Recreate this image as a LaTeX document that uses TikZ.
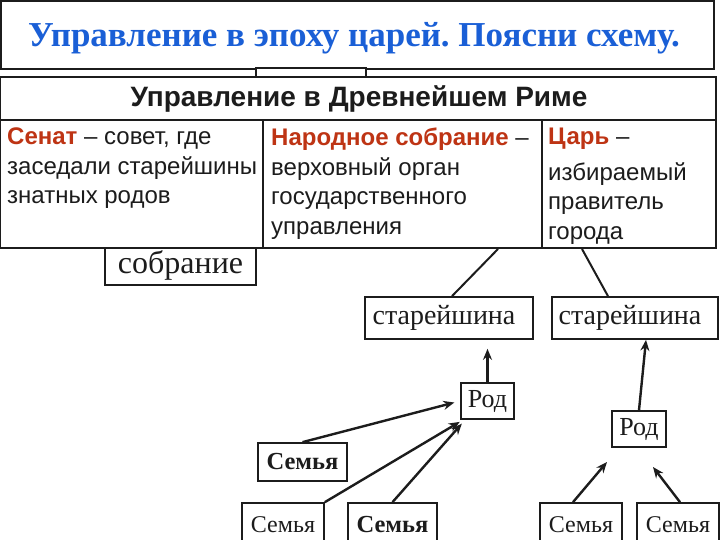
\documentclass[tikz,border=0pt]{standalone}
\usepackage{fontspec}
\setmainfont{Liberation Serif}
\setsansfont{Liberation Sans}
\usetikzlibrary{positioning, arrows.meta}
\definecolor{titleblue}{HTML}{1A5FD6}
\definecolor{termred}{HTML}{BE3414}
\definecolor{ink}{HTML}{1C1C1C}
\newcommand{\term}[1]{\textbf{\textcolor{termred}{#1}}}
\frenchspacing

\begin{document}
\begin{tikzpicture}[
  x=1pt, y=-1pt,
  every node/.style={text=ink},
  box/.style={draw=ink, line width=1.7pt, fill=white, inner sep=0pt},
  cell/.style={anchor=north west, align=left, inner sep=0pt,
    font=\sffamily\fontsize{24}{29.5}\selectfont},
  arr/.style={-{Stealth[length=11pt, width=9pt]}, line width=2.4pt, draw=ink},
  link/.style={line width=2pt, draw=ink}
]
  \useasboundingbox (0,0) rectangle (720,540);

  % title band
  \draw[line width=2pt, draw=ink] (1,1) rectangle (714,69);
  \node[font=\bfseries\fontsize{35}{38}\selectfont, text=titleblue] (title) at (354,38)
    {Управление в эпоху царей. Поясни схему.};

  % boxes partly hidden behind the table
  \draw[box] (256,68) rectangle (366,90);
  \node[box, minimum width=151, minimum height=40, font=\fontsize{32}{36}\selectfont]
    (sobr) at (180.5,265) {собрание};

  % table
  \draw[line width=2pt, draw=ink, fill=white] (0,77) rectangle (716,248);
  \draw[line width=1.3pt, draw=ink] (0,120) -- (716,120);
  \draw[line width=1.3pt, draw=ink] (263,120) -- (263,248);
  \draw[line width=1.3pt, draw=ink] (542,120) -- (542,248);
  \node[font=\sffamily\bfseries\fontsize{28}{32}\selectfont] (head) at (359,99)
    {Управление в Древнейшем Риме};
  \node[cell] (senat) at (7,128)
    {\term{Сенат} – совет, где\\заседали старейшины\\знатных родов};
  \node[cell] (narod) at (271,128)
    {\term{Народное собрание} –\\верховный орган\\государственного\\управления};
  \node[cell] (tsar) at (548,128)
    {\term{Царь} –\\[6pt]избираемый\\правитель\\города};

  % scheme
  \node[box, minimum width=168, minimum height=42, font=\fontsize{28}{32}\selectfont]
    (star1) at (449,318) {\hspace*{-10pt}старейшина};
  \node[box, minimum width=166, minimum height=42, font=\fontsize{28}{32}\selectfont]
    (star2) at (635,318) {\hspace*{-10pt}старейшина};
  \node[box, minimum width=53, minimum height=36, font=\fontsize{26}{30}\selectfont]
    (rod1) at (487.5,401) {Род};
  \node[box, minimum width=54, minimum height=36, font=\fontsize{26}{30}\selectfont]
    (rod2) at (639,429) {Род};
  \node[box, minimum width=89, minimum height=38, font=\bfseries\fontsize{24.5}{30}\selectfont]
    (fam1) at (302.5,462) {Семья};
  \node[box, minimum width=82, minimum height=44, font=\fontsize{24}{30}\selectfont]
    (fam2) at (283,525) {Семья};
  \node[box, minimum width=89, minimum height=44, font=\bfseries\fontsize{24.5}{30}\selectfont]
    (fam3) at (392.5,525) {Семья};
  \node[box, minimum width=82, minimum height=44, font=\fontsize{24}{30}\selectfont]
    (fam4) at (581,525) {Семья};
  \node[box, minimum width=82, minimum height=44, font=\fontsize{24}{30}\selectfont]
    (fam5) at (678,525) {Семья};

  \coordinate (out1) at (498,249);
  \coordinate (out2) at (582,249);
  \coordinate (tip4) at (607,462);
  \coordinate (tip5) at (653,467);

  \draw[link] (out1) -- ([xshift=3pt]star1.north);
  \draw[link] (out2) -- ([xshift=-27pt]star2.north);
  \draw[arr, shorten >=9pt] (rod1.north) -- (rod1.north |- star1.south);
  \draw[arr] (rod2.north) -- ([xshift=11pt]star2.south);
  \draw[arr, shorten >=6pt] (fam1.north) -- (rod1.west);
  \draw[arr, shorten >=4pt] (fam2.north east) -- ([xshift=3pt]rod1.south west);
  \draw[arr, shorten >=5pt] (fam3.north) -- ([xshift=5pt]rod1.south west);
  \draw[arr] ([xshift=-8pt]fam4.north) -- (tip4);
  \draw[arr] ([xshift=2pt]fam5.north) -- (tip5);
\end{tikzpicture}
\end{document}
